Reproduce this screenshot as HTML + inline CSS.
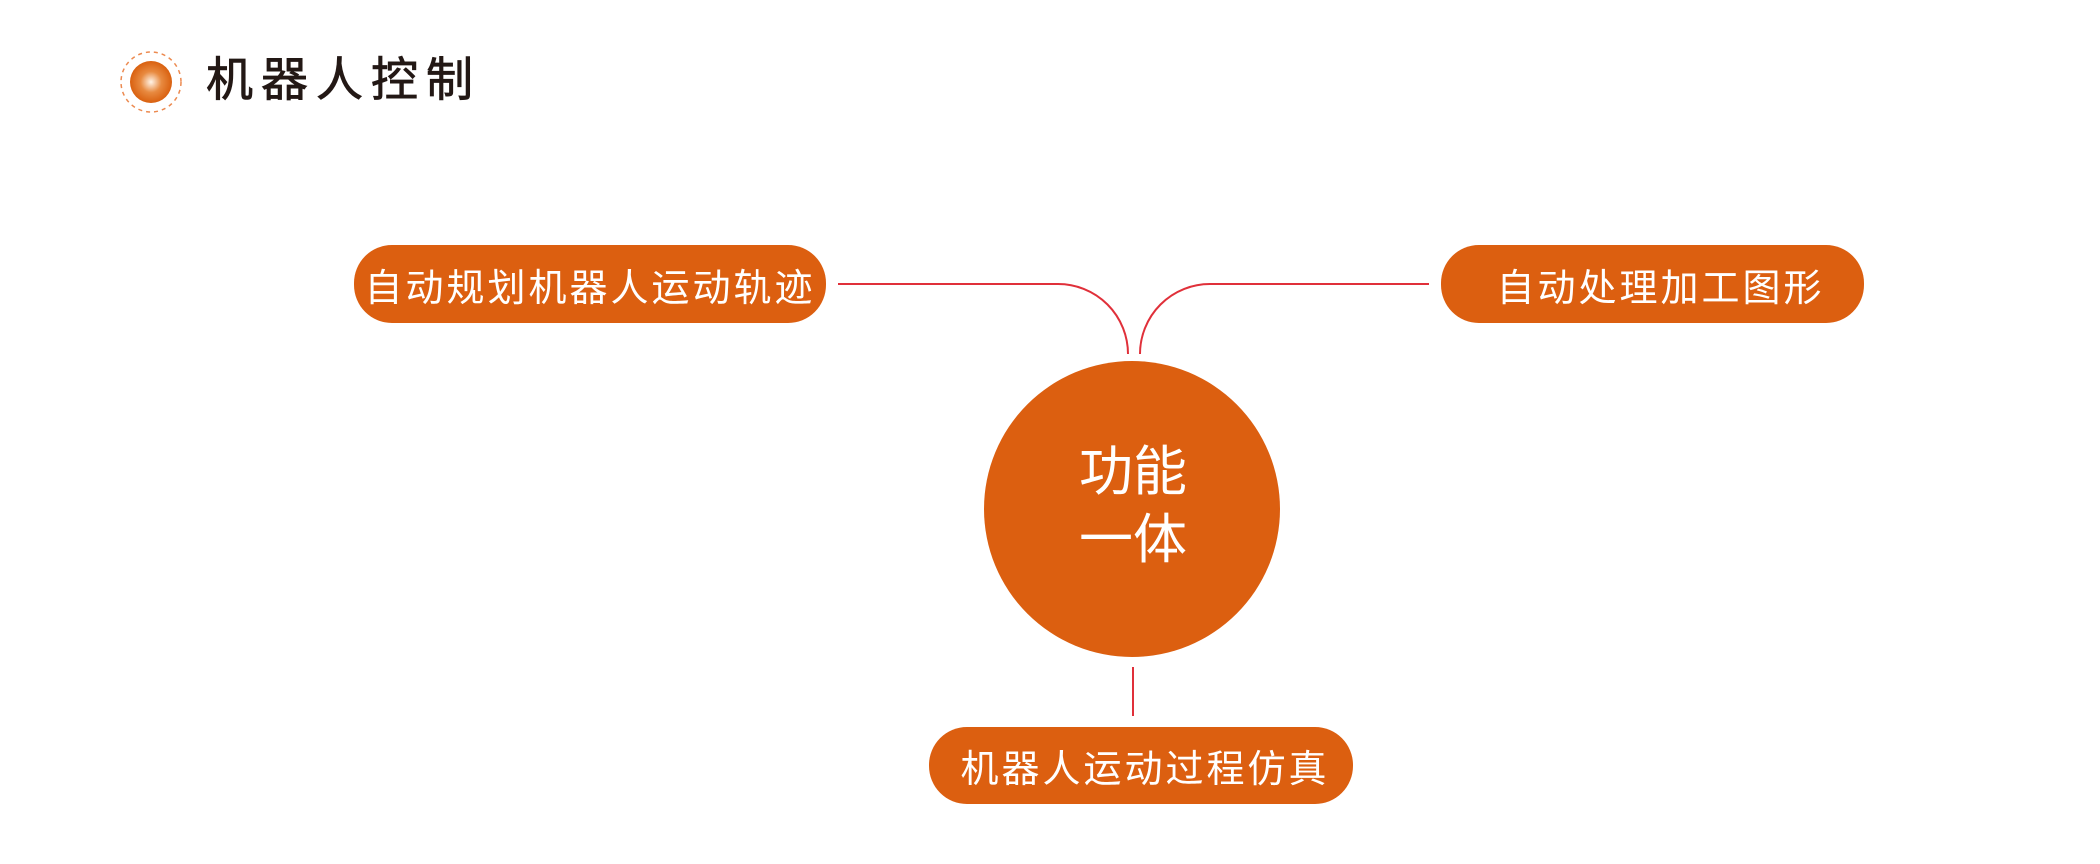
<!DOCTYPE html>
<html><head><meta charset="utf-8"><style>
body{margin:0;width:2100px;height:864px;background:#fff;overflow:hidden;position:relative;font-family:"Liberation Sans","Noto Sans CJK SC",sans-serif}
.pill{position:absolute;background:#dc5f10;color:#fff;border-radius:38px;display:flex;align-items:center;justify-content:center;font-size:38px;letter-spacing:3px;height:78px}
</style></head><body>
<svg width="2100" height="864" style="position:absolute;left:0;top:0">
<defs><radialGradient id="g" cx="50%" cy="50%" r="50%"><stop offset="0" stop-color="#fff4e8"/><stop offset="0.5" stop-color="#e88a40"/><stop offset="1" stop-color="#d9600f"/></radialGradient></defs>
<circle cx="151" cy="82" r="30" fill="none" stroke="#ec8a50" stroke-width="1.5" stroke-dasharray="4 4"/>
<circle cx="151" cy="82" r="21" fill="url(#g)"/>
<path d="M838 284 H1058 A70 70 0 0 1 1128 354" fill="none" stroke="#e0303a" stroke-width="2"/>
<path d="M1429 284 H1210 A70 70 0 0 0 1140 354" fill="none" stroke="#e0303a" stroke-width="2"/>
<line x1="1133" y1="667" x2="1133" y2="716" stroke="#e0303a" stroke-width="2"/>
<circle cx="1132" cy="509" r="148" fill="#dc5f10"/>
<text x="1133" y="490" font-size="54" fill="#fff" text-anchor="middle" font-family="Liberation Sans, Noto Sans CJK SC, sans-serif">功能</text>
<text x="1133" y="558" font-size="54" fill="#fff" text-anchor="middle" font-family="Liberation Sans, Noto Sans CJK SC, sans-serif">一体</text>
</svg>
<div style="position:absolute;left:206px;top:50px;font-size:47px;letter-spacing:8px;color:#231815;line-height:60px;-webkit-text-stroke:0.8px #231815">机器人控制</div>
<div class="pill" style="left:354px;top:245px;width:472px">自动规划机器人运动轨迹</div>
<div class="pill" style="left:1441px;top:245px;width:423px;padding-left:16px;box-sizing:border-box">自动处理加工图形</div>
<div class="pill" style="left:929px;top:727px;width:424px;height:77px;padding-left:8px;box-sizing:border-box">机器人运动过程仿真</div>
</body></html>
